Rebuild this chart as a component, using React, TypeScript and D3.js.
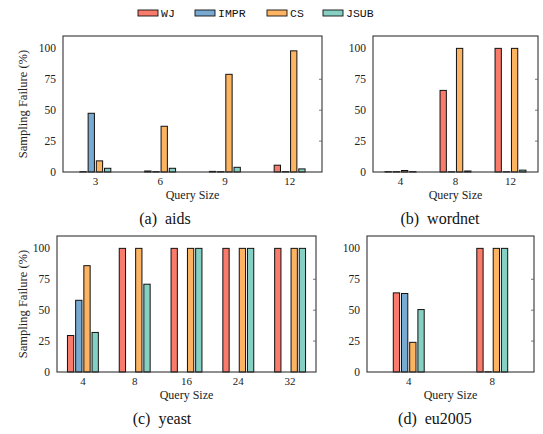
import * as d3 from 'd3'

// legend / series
const seriesNames = ['WJ', 'IMPR', 'CS', 'JSUB']
const seriesColors = ['#F97B6C', '#78A9D1', '#FDB462', '#86D0C3']

// (a) aids
const aidsSizes = ['3', '6', '9', '12']
const aidsWJ = [0.3, 0.8, 0.5, 5.5]
const aidsIMPR = [47.5, 0.3, 0.3, 0.3]
const aidsCS = [9, 37, 79, 98]
const aidsJSUB = [3, 3, 3.8, 2.5]

// (b) wordnet
const wordnetSizes = ['4', '8', '12']
const wordnetWJ = [0.3, 66, 100]
const wordnetIMPR = [0.3, 0.2, 0.2]
const wordnetCS = [1.2, 100, 100]
const wordnetJSUB = [0.3, 0.8, 1.5]

// (c) yeast
const yeastSizes = ['4', '8', '16', '24', '32']
const yeastWJ = [29.5, 100, 100, 100, 100]
const yeastIMPR = [58, 0, 0, 0, 0]
const yeastCS = [86, 100, 100, 100, 100]
const yeastJSUB = [32, 71, 100, 100, 100]

// (d) eu2005
const euSizes = ['4', '8']
const euWJ = [64, 100]
const euIMPR = [63.5, 0.2]
const euCS = [24, 100]
const euJSUB = [50.5, 100]

const yTicks = [0, 25, 50, 75, 100]

const W = 543
const H = 434
const serif = '"Liberation Serif", "Times New Roman", serif'
const mono = '"Liberation Mono", "DejaVu Sans Mono", monospace'

type Panel = {
  caption: string
  sizes: string[]
  values: number[][]
  x0: number
  x1: number
  y0: number
  y1: number
  ylabel: boolean
  capX: number
}

const panels: Panel[] = [
  { caption: '(a)  aids', sizes: aidsSizes, values: [aidsWJ, aidsIMPR, aidsCS, aidsJSUB], x0: 63, x1: 322, y0: 36, y1: 172, ylabel: true, capX: 165 },
  { caption: '(b)  wordnet', sizes: wordnetSizes, values: [wordnetWJ, wordnetIMPR, wordnetCS, wordnetJSUB], x0: 373, x1: 538, y0: 36, y1: 172, ylabel: false, capX: 440 },
  { caption: '(c)  yeast', sizes: yeastSizes, values: [yeastWJ, yeastIMPR, yeastCS, yeastJSUB], x0: 57, x1: 316, y0: 236, y1: 372, ylabel: true, capX: 162 },
  { caption: '(d)  eu2005', sizes: euSizes, values: [euWJ, euIMPR, euCS, euJSUB], x0: 367, x1: 534, y0: 236, y1: 372, ylabel: false, capX: 435 },
]

const barStep = 8.2
const barWidth = 6.3

function BarPanel({ p }: { p: Panel }) {
  const x = d3.scaleBand<string>().domain(p.sizes).range([p.x0, p.x1]).padding(0)
  const y = d3.scaleLinear().domain([0, 110]).range([p.y1, p.y0])
  const midX = (p.x0 + p.x1) / 2
  return (
    <g>
      {p.sizes.map((s, i) => {
        const cx = x(s)! + x.bandwidth() / 2
        return seriesNames.map((name, j) => {
          const v = p.values[j][i]
          const bx = cx + (j - 1.5) * barStep - barWidth / 2
          return (
            <rect
              key={name + s}
              x={bx}
              y={y(v)}
              width={barWidth}
              height={y(0) - y(v)}
              fill={seriesColors[j]}
              stroke="#111"
              strokeWidth={1}
            />
          )
        })
      })}
      <rect x={p.x0} y={p.y0} width={p.x1 - p.x0} height={p.y1 - p.y0} fill="none" stroke="#333" strokeWidth={1.1} />
      {yTicks.map((t) => (
        <g key={t}>
          <text x={p.x0 - 7} y={y(t)} dy="0.35em" textAnchor="end" fontFamily={serif} fontSize={11.5} fill="#222">
            {t}
          </text>
          {t > 0 && t < 100 && <line x1={p.x1 - 3} x2={p.x1} y1={y(t)} y2={y(t)} stroke="#555" strokeWidth={0.8} />}
        </g>
      ))}
      {p.sizes.map((s) => (
        <text key={s} x={x(s)! + x.bandwidth() / 2} y={p.y1 + 13} textAnchor="middle" fontFamily={serif} fontSize={11} fill="#222">
          {s}
        </text>
      ))}
      <text x={midX} y={p.y1 + 26.5} textAnchor="middle" fontFamily={serif} fontSize={12} fill="#222">
        Query Size
      </text>
      {p.ylabel && (
        <text
          transform={`translate(23,${(p.y0 + p.y1) / 2}) rotate(-90)`}
          textAnchor="middle"
          dy="0.35em"
          fontFamily={serif}
          fontSize={12.5}
          fill="#222"
        >
          Sampling Failure (%)
        </text>
      )}
      <text x={p.capX} y={p.y1 + 52} textAnchor="middle" fontFamily={serif} fontSize={16} fill="#111" style={{ whiteSpace: 'pre' }}>
        {p.caption}
      </text>
    </g>
  )
}

const legendX = [138, 195, 267, 323]

export default function App() {
  return (
    <svg width={W} height={H} style={{ position: 'absolute', left: 0, top: 0, background: '#fff' }}>
      <rect width={W} height={H} fill="#fff" />
      {seriesNames.map((name, i) => (
        <g key={name}>
          <rect x={legendX[i]} y={10} width={20} height={6} fill={seriesColors[i]} stroke="#111" strokeWidth={0.9} />
          <text x={legendX[i] + 23} y={17} fontFamily={mono} fontSize={11.5} fill="#111">
            {name}
          </text>
        </g>
      ))}
      {panels.map((p) => (
        <BarPanel key={p.caption} p={p} />
      ))}
    </svg>
  )
}
